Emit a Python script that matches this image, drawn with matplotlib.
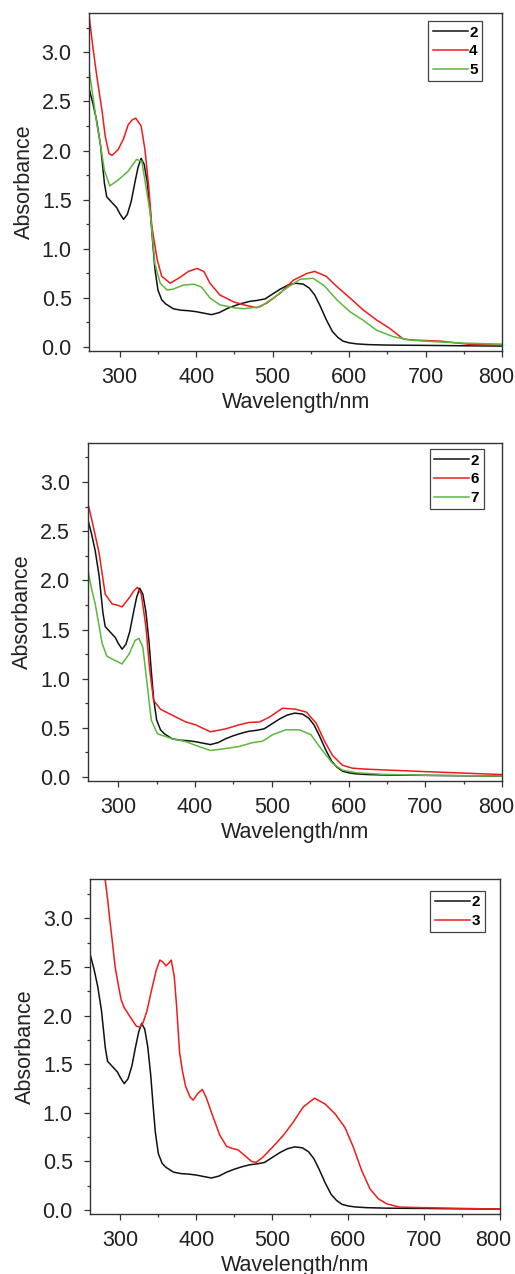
import numpy as np
import matplotlib.pyplot as plt
import matplotlib.transforms as mtransforms
from matplotlib.ticker import MultipleLocator

plt.rcParams['font.family'] = ['Liberation Sans', 'DejaVu Sans']

# ---- compound 2 (reference curve, shown in every panel) ----
wl_2 = [260, 265, 270, 275, 280, 283, 290, 296, 300, 305, 310, 315, 320, 324,
        328, 332, 336, 340, 343, 346, 350, 355, 360, 370, 380, 390, 400, 410, 420,
        430, 440, 450, 460, 470, 480, 490, 500, 510, 520, 530, 540, 548, 555, 562,
        570, 578, 585, 592, 600, 610, 625, 650, 700, 750, 800]
abs_2 = [2.63, 2.48, 2.30, 2.05, 1.67, 1.53, 1.47, 1.42, 1.36, 1.30, 1.35, 1.48, 1.68, 1.83,
         1.92, 1.86, 1.68, 1.38, 1.08, 0.80, 0.58, 0.48, 0.44, 0.39, 0.375, 0.37, 0.36, 0.345, 0.33,
         0.35, 0.39, 0.42, 0.445, 0.465, 0.475, 0.49, 0.54, 0.59, 0.63, 0.65, 0.64, 0.60, 0.53, 0.42,
         0.28, 0.16, 0.10, 0.06, 0.043, 0.032, 0.025, 0.02, 0.017, 0.013, 0.01]

# ---- compound 4 ----
wl_4 = [260, 265, 270, 277, 281, 286, 290, 298, 305, 311, 316, 321, 328, 333, 338, 342, 349,
        355, 366, 379, 390, 401, 410, 418, 431, 449, 462, 479, 492, 510, 527, 545,
        555, 570, 584, 601, 618, 636, 653, 671, 688, 720, 760, 800]
abs_4 = [3.37, 3.05, 2.76, 2.40, 2.15, 1.97, 1.95, 2.01, 2.12, 2.26, 2.31, 2.33, 2.25, 2.01, 1.63, 1.23, 0.89,
         0.72, 0.65, 0.71, 0.77, 0.80, 0.77, 0.65, 0.53, 0.46, 0.43, 0.40, 0.445, 0.55, 0.68, 0.75,
         0.77, 0.72, 0.615, 0.50, 0.38, 0.275, 0.19, 0.08, 0.07, 0.06, 0.025, 0.02]

# ---- compound 5 ----
wl_5 = [260, 265, 270, 275, 280, 287, 298, 311, 322, 329, 335, 340, 346, 353, 362, 370,
        383, 397, 407, 418, 431, 449, 462, 484, 501, 518, 536, 553, 568, 584, 601,
        618, 636, 658, 680, 710, 750, 800]
abs_5 = [2.82, 2.55, 2.28, 2.05, 1.80, 1.64, 1.70, 1.79, 1.91, 1.89, 1.60, 1.36, 0.85, 0.65, 0.58, 0.59,
         0.63, 0.64, 0.61, 0.50, 0.43, 0.40, 0.39, 0.41, 0.50, 0.60, 0.69, 0.70, 0.62, 0.48, 0.36,
         0.275, 0.17, 0.105, 0.07, 0.055, 0.04, 0.03]

# ---- compound 6 ----
wl_6 = [260, 266, 275, 283, 292, 298, 305, 315, 320, 325, 330, 336, 341, 346, 355,
        370, 388, 401, 420, 440, 457, 470, 484, 497, 514, 531, 545, 558, 568, 579,
        592, 605, 623, 700, 800]
abs_6 = [2.80, 2.60, 2.28, 1.86, 1.76, 1.75, 1.73, 1.83, 1.89, 1.93, 1.86, 1.53, 1.09, 0.78, 0.69,
         0.63, 0.56, 0.53, 0.46, 0.49, 0.53, 0.555, 0.56, 0.61, 0.70, 0.69, 0.66, 0.545, 0.375, 0.22,
         0.12, 0.09, 0.08, 0.055, 0.025]

# ---- compound 7 ----
wl_7 = [260, 265, 270, 279, 285, 292, 305, 314, 322, 327, 332, 338, 343, 351, 370, 388,
        405, 420, 440, 457, 475, 488, 501, 518, 536, 551, 564, 579, 592, 610, 645,
        700, 800]
abs_7 = [2.13, 1.92, 1.76, 1.36, 1.23, 1.20, 1.15, 1.25, 1.39, 1.41, 1.32, 0.92, 0.58, 0.44, 0.39, 0.36,
         0.31, 0.27, 0.29, 0.31, 0.35, 0.365, 0.43, 0.48, 0.48, 0.43, 0.29, 0.14, 0.07, 0.044, 0.027,
         0.018, 0.01]

# ---- compound 3 ----
wl_3 = [279, 283, 286, 289, 293, 297, 301, 305, 310, 315, 321, 326, 330, 335, 341, 347, 352, 356, 360,
        364, 367, 371, 374, 378, 382, 386, 392, 396, 402, 408, 413, 422, 431, 440, 449, 455, 464,
        473, 479, 488, 501, 515, 528, 541, 556, 570, 583, 596, 607, 618, 629, 640,
        651, 668, 700, 800]
abs_3 = [3.45, 3.20, 2.98, 2.78, 2.50, 2.32, 2.16, 2.08, 2.02, 1.96, 1.89, 1.88, 1.93, 2.05, 2.26, 2.46, 2.57, 2.55, 2.51,
         2.54, 2.57, 2.40, 2.10, 1.62, 1.42, 1.27, 1.16, 1.13, 1.20, 1.24, 1.16, 0.96, 0.77, 0.655, 0.63, 0.62, 0.56,
         0.50, 0.49, 0.545, 0.65, 0.77, 0.905, 1.06, 1.15, 1.09, 0.99, 0.85, 0.65, 0.41, 0.22, 0.117,
         0.065, 0.031, 0.025, 0.01]

BLACK, RED, GREEN = '#111111', '#ee1c1c', '#5cb83c'
FS = 15.5

panels = [
    ([(wl_2, abs_2, BLACK, '2'), (wl_4, abs_4, RED, '4'), (wl_5, abs_5, GREEN, '5')],
     [0.173, 0.7245, 0.802, 0.2653], (0.952, 0.976)),
    ([(wl_2, abs_2, BLACK, '2'), (wl_6, abs_6, RED, '6'), (wl_7, abs_7, GREEN, '7')],
     [0.170, 0.387, 0.805, 0.2655], (0.956, 0.981)),
    ([(wl_2, abs_2, BLACK, '2'), (wl_3, abs_3, RED, '3')],
     [0.175, 0.0471, 0.795, 0.2627], (0.964, 0.966)),
]

fig = plt.figure(figsize=(5.15, 12.74), dpi=100)
axes = []

for series, rect, anchor in panels:
    ax = fig.add_axes(rect)
    axes.append(ax)
    for x, y, c, lab in series:
        ax.plot(x, y, color=c, lw=1.1, label=lab)
    ax.set_xlim(260, 800)
    ax.set_ylim(-0.04, 3.4)
    ax.xaxis.set_major_locator(MultipleLocator(100))
    ax.xaxis.set_minor_locator(MultipleLocator(50))
    ax.yaxis.set_major_locator(MultipleLocator(0.5))
    ax.yaxis.set_minor_locator(MultipleLocator(0.25))
    ax.yaxis.set_major_formatter(plt.FormatStrFormatter('%.1f'))
    ax.tick_params(which='both', direction='out', top=False, right=False,
                   labelsize=FS, color='#333333', width=0.9, labelcolor='#222222')
    ax.tick_params(which='major', length=4.5)
    ax.tick_params(which='minor', length=2.5)
    ax.tick_params(axis='y', which='major', pad=8)
    ax.tick_params(axis='x', which='major', pad=7)
    for s in ax.spines.values():
        s.set_linewidth(1.0)
        s.set_color('#333333')
    ax.set_xlabel('Wavelength/nm', fontsize=FS, labelpad=3, color='#222222')
    ax.set_ylabel('Absorbance', fontsize=FS, labelpad=5, color='#222222')
    leg = ax.legend(loc='upper right', bbox_to_anchor=anchor, borderaxespad=0,
                    fancybox=False, edgecolor='#444444', framealpha=1,
                    prop={'weight': 'bold', 'size': 11}, handlelength=2.3,
                    handletextpad=0.1, labelspacing=0.3, borderpad=0.3)
    leg.get_frame().set_linewidth(0.9)

# nudge the "800" label inwards, as in the original figure
fig.canvas.draw()
shift = mtransforms.ScaledTranslation(-6 / 100, 0, fig.dpi_scale_trans)
for ax in axes:
    for tick in ax.xaxis.get_major_ticks():
        if abs(tick.get_loc() - 800) < 1e-6:
            tick.label1.set_transform(tick.label1.get_transform() + shift)

plt.savefig('out.png', dpi=100)
